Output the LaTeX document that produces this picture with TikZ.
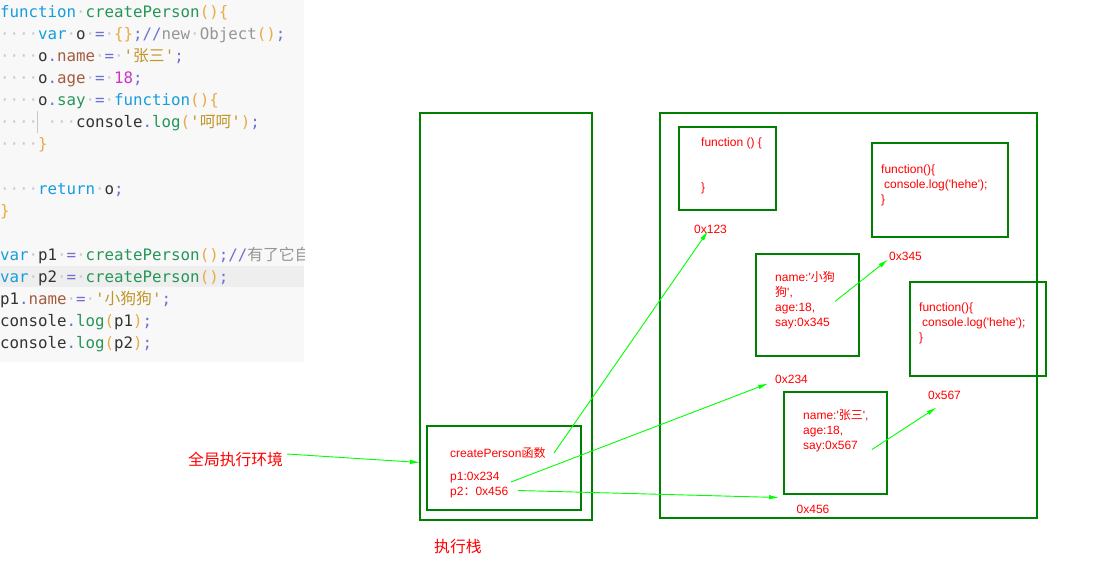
\documentclass[tikz,border=0pt]{standalone}
\usepackage{fontspec}
\usetikzlibrary{arrows.meta}
\newfontfamily\codefont{DejaVu Sans Mono}
\newfontfamily\lbfont{Liberation Sans}
\newfontfamily\cjk{Noto Sans CJK SC}
\definecolor{codebg}{RGB}{248,248,248}
\definecolor{codehl}{RGB}{238,238,238}
\definecolor{ckwc}{RGB}{22,158,220}
\definecolor{cfnc}{RGB}{38,150,88}
\definecolor{cpuc}{RGB}{230,172,70}
\definecolor{copc}{RGB}{112,112,210}
\definecolor{cprc}{RGB}{165,92,60}
\definecolor{cnuc}{RGB}{210,50,200}
\definecolor{cstc}{RGB}{192,150,40}
\definecolor{ccmc}{RGB}{150,150,150}
\definecolor{cdtc}{RGB}{200,200,200}
\definecolor{ctx}{RGB}{51,51,51}
\definecolor{boxgreen}{RGB}{0,128,0}
\definecolor{linkgreen}{RGB}{0,255,0}
\newcommand\ckw[1]{\textcolor{ckwc}{#1}}
\newcommand\cfn[1]{\textcolor{cfnc}{#1}}
\newcommand\cpu[1]{\textcolor{cpuc}{#1}}
\newcommand\cop[1]{\textcolor{copc}{#1}}
\newcommand\cpr[1]{\textcolor{cprc}{#1}}
\newcommand\cnu[1]{\textcolor{cnuc}{#1}}
\newcommand\cst[1]{\textcolor{cstc}{#1}}
\newcommand\ccm[1]{\textcolor{ccmc}{#1}}
\newcommand\cdt[1]{\textcolor{cdtc}{#1}}
\newcommand\q{\textquotesingle}
\tikzset{
  code/.style={anchor=base west, inner sep=0pt, outer sep=0pt, text=ctx,
    font=\codefont\fontsize{15.8}{22}\selectfont},
  box/.style={draw=boxgreen, line width=1.3pt, anchor=north west, inner sep=0pt, outer sep=0pt},
  lbl/.style={text=red, font=\lbfont\fontsize{12}{15}\selectfont, anchor=west, inner sep=0pt, align=left},
  big/.style={text=red, font=\cjk\fontsize{15.8}{16}\selectfont, anchor=west, inner sep=0pt},
  link/.style={draw=linkgreen, line width=0.9pt, -{Latex[length=10pt,width=4.5pt]}}
}
\begin{document}
\begin{tikzpicture}[x=1pt,y=-1pt]
\fill[white] (0,0) rectangle (1110,572);
\useasboundingbox (0,0) rectangle (1110,572);
% code panel
\fill[codebg] (0,0) rectangle (304,362);
\fill[codehl] (0,266) rectangle (304,287);
\draw[cdtc, line width=0.8pt] (37,111) -- (37,133);
\begin{scope}
\clip (0,0) rectangle (304,362);
\node[code] (l1) at (0,18) {\ckw{function}\cdt{·}\cfn{createPerson}\cpu{()\{}};
\node[code] (l2) at (0,40) {\cdt{····}\ckw{var}\cdt{·}o\cdt{·}\cop{=}\cdt{·}\cpu{\{\}}\cop{;//}\ccm{new}\cdt{·}\ccm{Object}\cpu{()}\cop{;}};
\node[code] (l3) at (0,62) {\cdt{····}o\cop{.}\cpr{name}\cdt{·}\cop{=}\cdt{·}\cst{\q{\cjk 张三}\q}\cop{;}};
\node[code] (l4) at (0,84) {\cdt{····}o\cop{.}\cpr{age}\cdt{·}\cop{=}\cdt{·}\cnu{18}\cop{;}};
\node[code] (l5) at (0,106) {\cdt{····}o\cop{.}\cfn{say}\cdt{·}\cop{=}\cdt{·}\ckw{function}\cpu{()\{}};
\node[code] (l6) at (0,128) {\cdt{····}\phantom{·}\cdt{···}console\cop{.}\cfn{log}\cpu{(}\cst{\q{\cjk 呵呵}\q}\cpu{)}\cop{;}};
\node[code] (l7) at (0,150) {\cdt{····}\cpu{\}}};
\node[code] (l9) at (0,194) {\cdt{····}\ckw{return}\cdt{·}o\cop{;}};
\node[code] (l10) at (0,216) {\cpu{\}}};
\node[code] (l12) at (0,260) {\ckw{var}\cdt{·}p1\cdt{·}\cop{=}\cdt{·}\cfn{createPerson}\cpu{()}\cop{;//}\ccm{\cjk 有了它自己}};
\node[code] (l13) at (0,282) {\ckw{var}\cdt{·}p2\cdt{·}\cop{=}\cdt{·}\cfn{createPerson}\cpu{()}\cop{;}};
\node[code] (l14) at (0,304) {p1\cop{.}\cpr{name}\cdt{·}\cop{=}\cdt{·}\cst{\q{\cjk 小狗狗}\q}\cop{;}};
\node[code] (l15) at (0,326) {console\cop{.}\cfn{log}\cpu{(}p1\cpu{)}\cop{;}};
\node[code] (l16) at (0,348) {console\cop{.}\cfn{log}\cpu{(}p2\cpu{)}\cop{;}};
\end{scope}
% stack
\node[box, minimum width=172pt, minimum height=407pt] (stack) at (420,113) {};
\node[box, minimum width=154pt, minimum height=84pt] (frame) at (427,426) {};
\node[lbl] (cpfn) at (450,453) {createPerson{\cjk 函数}};
\node[lbl] (p1) at (450,478) {p1:0x234};
\node[lbl] (p2) at (450,492.5) {p2{\cjk ：}0x456};
\node[big] (stacklbl) at (434,547) {执行栈};
\node[big] (global) at (188,459) {全局执行环境};
% heap
\node[box, minimum width=377pt, minimum height=405pt] (heap) at (660,113) {};
\node[box, minimum width=97pt, minimum height=83pt] (fA) at (679,127) {};
\node[lbl] (fAtxt) at (701,165.5) {function () \{\\[30pt]\}};
\node[lbl] (a123) at (694,229) {0x123};
\node[box, minimum width=136pt, minimum height=94pt] (fB) at (872,143) {};
\node[lbl] (fBtxt) at (881,185) {function()\{\\{\hskip3pt}console.log(\q hehe\q);\\\}};
\node[lbl] (a345) at (889,256) {0x345};
\node[box, minimum width=103pt, minimum height=102pt] (objC) at (756,254) {};
\node[lbl] (objCtxt) at (775,300) {name:\q{\cjk 小狗}\\{\cjk 狗}\q,\\age:18,\\say:0x345};
\node[box, minimum width=136pt, minimum height=94pt] (fD) at (910,282) {};
\node[lbl] (fDtxt) at (919,323.3) {function()\{\\{\hskip3pt}console.log(\q hehe\q);\\\}};
\node[lbl] (a234) at (775,379) {0x234};
\node[lbl] (a567) at (928,395.5) {0x567};
\node[box, minimum width=103pt, minimum height=102pt] (objE) at (784,392) {};
\node[lbl] (objEtxt) at (803,431.3) {name:\q{\cjk 张三}\q,\\age:18,\\say:0x567};
\node[lbl] (a456) at (796.5,509.5) {0x456};
% connector ends
\coordinate (s1) at (554,453);
\coordinate (e1) at (708,231);
\coordinate (s2) at (511,482);
\coordinate (e2) at (768,383.5);
\coordinate (s3) at (518,490.5);
\coordinate (e3) at (779,497.5);
\coordinate (s4) at (835,301.5);
\coordinate (e4) at (888,259.5);
\coordinate (s5) at (872,449.5);
\coordinate (e5) at (936.5,407.5);
\coordinate (s6) at (287,454);
\coordinate (e6) at (420,462.5);
\draw[link] (s1) -- (e1);
\draw[link] (s2) -- (e2);
\draw[link] (s3) -- (e3);
\draw[link] (s4) -- (e4);
\draw[link] (s5) -- (e5);
\draw[link] (s6) -- (e6);
\end{tikzpicture}
\end{document}
